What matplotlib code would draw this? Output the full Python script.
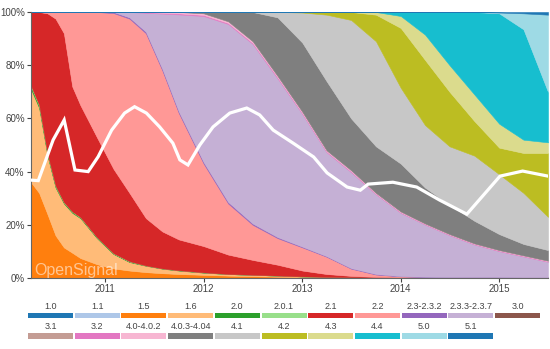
import pandas as pd
import matplotlib
matplotlib.use('Agg')
import matplotlib.pyplot as plt
from matplotlib.dates import YearLocator, DateFormatter
from matplotlib.ticker import FuncFormatter

plt.rcParams['font.family'] = ['Liberation Sans', 'DejaVu Sans']

# sampling dates for the version shares (percent of devices)
months = pd.to_datetime(['2010-04-01', '2010-05-01', '2010-06-01', '2010-07-01', '2010-08-01',
                         '2010-09-01', '2010-10-01', '2010-12-01', '2011-02-01', '2011-04-01',
                         '2011-06-01', '2011-08-01', '2011-10-01', '2012-01-01', '2012-04-01',
                         '2012-07-01', '2012-10-01', '2013-01-01', '2013-04-01', '2013-07-01',
                         '2013-10-01', '2014-01-01', '2014-04-01', '2014-07-01', '2014-10-01',
                         '2015-01-01', '2015-04-01', '2015-07-01'])

share_15 = [36, 32, 24, 16, 11.5, 9.5, 7.5, 5.2, 3.6, 2.8, 2.2, 1.8, 1.5, 1.2, 0.9, 0.7, 0.5, 0.4,
            0.3, 0.2, 0.2, 0.1, 0.1, 0.1, 0.1, 0.1, 0.1, 0.1]
share_16 = [35, 32, 22, 18, 16.5, 15, 15, 9.8, 5.4, 3.2, 2.4, 1.7, 1.3, 0.8, 0.6, 0.5, 0.4, 0.2,
            0.1, 0.1, 0, 0, 0, 0, 0, 0, 0, 0]
share_20 = [1.0, 0.8, 0.6, 0.5, 0.4, 0.4, 0.3, 0.3, 0.2, 0.2, 0.1, 0.1, 0.1, 0.1, 0, 0, 0, 0,
            0, 0, 0, 0, 0, 0, 0, 0, 0, 0]
share_201 = [0.3, 0.3, 0.2, 0.2, 0.1, 0.1, 0.1, 0.1, 0.1, 0.1, 0, 0, 0, 0, 0, 0, 0, 0,
             0, 0, 0, 0, 0, 0, 0, 0, 0, 0]
share_21 = [27.7, 34.9, 52.7, 62.8, 63.5, 47, 42.1, 37.6, 31.7, 25.7, 17.8, 13.9, 11.6, 9.9, 7.3,
            5.6, 4.1, 2.2, 1.1, 0.5, 0.2, 0.2, 0.1, 0.1, 0.1, 0.1, 0.1, 0.1]
share_22 = [0, 0, 0.5, 2.5, 8, 28, 35, 47, 58.6, 65.5, 69.5, 60.5, 47.5, 31, 19.2, 13.2, 10, 8.7,
            6.5, 2.7, 0.9, 0.3, 0.2, 0.1, 0.1, 0.1, 0, 0]
share_230 = [0, 0, 0, 0, 0, 0, 0, 0, 0.4, 0.5, 0.6, 0.6, 0.6, 0.6, 0.6, 0.5, 0.4, 0.3,
             0.2, 0.2, 0.2, 0.1, 0.1, 0.1, 0.1, 0.1, 0.1, 0.1]
share_233 = [0, 0, 0, 0, 0, 0, 0, 0, 0, 2.0, 7.1, 20.8, 36.5, 54.9, 66.9, 67.5, 59.7, 49.9,
             39.1, 36.1, 30.0, 23.8, 19.6, 15.7, 12.2, 9.7, 7.8, 5.8]
share_32 = [0, 0, 0, 0, 0, 0, 0, 0, 0, 0, 0.2, 0.3, 0.4, 0.4, 0.4, 0.4, 0.4, 0.3,
            0.3, 0.3, 0.2, 0.2, 0.2, 0.2, 0.2, 0.2, 0.2, 0.2]
share_400 = [0, 0, 0, 0, 0, 0, 0, 0, 0, 0, 0.1, 0.3, 0.5, 0.6, 0.6, 0.6, 0.5, 0.5,
             0.4, 0.4, 0.3, 0.3, 0.2, 0.2, 0.2, 0.2, 0.2, 0.2]
share_403 = [0, 0, 0, 0, 0, 0, 0, 0, 0, 0, 0, 0, 0, 0.5, 3.5, 11, 22, 26,
             26, 19.5, 17.5, 18, 13.5, 11, 8.5, 6, 4.3, 4.0]
share_41 = [0, 0, 0, 0, 0, 0, 0, 0, 0, 0, 0, 0, 0, 0, 0, 0, 2, 11.3,
            25, 37, 39.5, 28.5, 23.5, 22, 24.5, 22.5, 19.2, 12.5]
share_42 = [0, 0, 0, 0, 0, 0, 0, 0, 0, 0, 0, 0, 0, 0, 0, 0, 0, 0.2,
            1, 3, 10, 22.5, 24.5, 20.5, 13, 10, 15, 24]
share_43 = [0, 0, 0, 0, 0, 0, 0, 0, 0, 0, 0, 0, 0, 0, 0, 0, 0, 0,
            0, 0, 1, 4.5, 9.5, 10, 10, 9, 5, 4]
share_44 = [0, 0, 0, 0, 0, 0, 0, 0, 0, 0, 0, 0, 0, 0, 0, 0, 0, 0,
            0, 0, 0, 1.5, 8.5, 20, 31, 41.5, 41.5, 19]
share_50 = [0, 0, 0, 0, 0, 0, 0, 0, 0, 0, 0, 0, 0, 0, 0, 0, 0, 0,
            0, 0, 0, 0, 0, 0, 0, 0.3, 6, 29]
share_51 = [0, 0, 0, 0, 0, 0, 0, 0, 0, 0, 0, 0, 0, 0, 0, 0, 0, 0,
            0, 0, 0, 0, 0, 0, 0, 0.2, 0.5, 1]

# white overlay line
line_dates = pd.to_datetime(['2010-04-01', '2010-04-28', '2010-06-22', '2010-08-02', '2010-09-11',
                             '2010-10-30', '2010-12-06', '2011-01-25', '2011-03-14', '2011-04-20',
                             '2011-06-03', '2011-07-22', '2011-09-09', '2011-10-05', '2011-11-04',
                             '2011-12-18', '2012-02-05', '2012-04-07', '2012-06-09', '2012-07-27',
                             '2012-09-15', '2012-11-28', '2013-02-12', '2013-04-03', '2013-06-16',
                             '2013-08-04', '2013-09-02', '2013-12-03', '2014-03-01', '2014-05-25',
                             '2014-09-03', '2015-01-04', '2015-03-29', '2015-07-01'])
line_vals = [36.8, 36.6, 51.9, 59.4, 40.6, 40, 45.6, 55.6, 62, 64.4, 62, 56.8, 50.7, 44.4, 42.5,
             50, 56.8, 62, 63.9, 61.3, 55.6, 50.7, 45.5, 39.5, 34.2, 33, 35.3, 36, 34.2, 29.3,
             24, 38.3, 40.2, 38.3]

versions = ['1.0', '1.1', '1.5', '1.6', '2.0', '2.0.1', '2.1', '2.2', '2.3-2.3.2', '2.3.3-2.3.7', '3.0',
            '3.1', '3.2', '4.0-4.0.2', '4.0.3-4.04', '4.1', '4.2', '4.3', '4.4', '5.0', '5.1']
colors = ['#1f77b4', '#aec7e8', '#ff7f0e', '#ffbb78', '#2ca02c', '#98df8a', '#d62728', '#ff9896',
          '#9467bd', '#c5b0d5', '#8c564b', '#c49c94', '#e377c2', '#f7b6d2', '#7f7f7f', '#c7c7c7',
          '#bcbd22', '#dbdb8d', '#17becf', '#9edae5', '#1f77b4']

stack = [share_15, share_16, share_20, share_201, share_21, share_22, share_230, share_233,
         share_32, share_400, share_403, share_41, share_42, share_43, share_44, share_50, share_51]
stack_cols = [colors[versions.index(v)] for v in
              ['1.5', '1.6', '2.0', '2.0.1', '2.1', '2.2', '2.3-2.3.2', '2.3.3-2.3.7', '3.2',
               '4.0-4.0.2', '4.0.3-4.04', '4.1', '4.2', '4.3', '4.4', '5.0', '5.1']]

fig = plt.figure(figsize=(5.5, 3.49), dpi=100)
ax = fig.add_axes([31/550, 1-278/349, 517/550, 266/349])

ax.stackplot(months, *stack, colors=stack_cols, linewidth=0.4, edgecolor='face')
ax.plot(line_dates, line_vals, color='white', lw=2.3, solid_joinstyle='miter', zorder=5)

ax.text(0.006, 0.0, 'OpenSignal', transform=ax.transAxes, fontsize=11.5,
        color='white', alpha=0.55, ha='left', va='bottom', zorder=6)

ax.set_xlim(pd.Timestamp('2010-04-01'), pd.Timestamp('2015-07-01'))
ax.set_ylim(0, 100)
ax.set_yticks([0, 20, 40, 60, 80, 100])
ax.yaxis.set_major_formatter(FuncFormatter(lambda v, p: '%d%%' % v))
ax.xaxis.set_major_locator(YearLocator())
ax.xaxis.set_major_formatter(DateFormatter('%Y'))
ax.tick_params(labelsize=7, colors='#444', length=3, width=0.8, pad=1.5)
for s in ['top', 'right']:
    ax.spines[s].set_visible(False)
for s in ['left', 'bottom']:
    ax.spines[s].set_color('#666')
    ax.spines[s].set_linewidth(0.8)

# legend: two rows of colour swatches with the version above each
lax = fig.add_axes([28/550, 1-342/349, 513.7/550, 46/349])
lax.set_xlim(0, 11)
lax.set_ylim(1.29, -0.95)
lax.axis('off')
for i, (v, c) in enumerate(zip(versions, colors)):
    row, col = divmod(i, 11)
    lax.bar(col + 0.482, 0.29, width=0.964, bottom=row - 0.145, color=c)
    lax.text(col + 0.482, row - 0.46, v, ha='center', va='center', fontsize=6.5, color='#444')

fig.savefig('out.png', dpi=100)
